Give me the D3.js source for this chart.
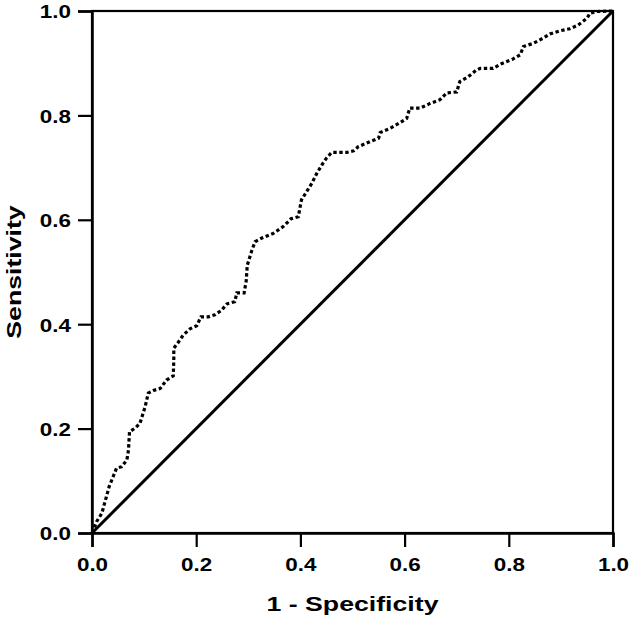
<!DOCTYPE html>
<html>
<head>
<meta charset="utf-8">
<script src="https://cdn.jsdelivr.net/npm/d3@7"></script>
<style>
  html, body { margin: 0; padding: 0; background: #fff; }
  svg { display: block; }
  text { font-family: "Liberation Sans", Arial, sans-serif; font-weight: bold; fill: #000; }
</style>
</head>
<body>
<div id="chart"></div>
<script>
// ── Data: ROC curve ──────────────────────────
const fpr = [0, 0.009, 0.019, 0.025, 0.033, 0.047, 0.057, 0.067, 0.070, 0.072,
  0.083, 0.092, 0.102, 0.108, 0.118, 0.131, 0.143, 0.156, 0.157, 0.157,
  0.166, 0.175, 0.188, 0.201, 0.209, 0.223, 0.236, 0.249, 0.259, 0.274,
  0.278, 0.292, 0.296, 0.298, 0.307, 0.313, 0.326, 0.348, 0.367, 0.382,
  0.396, 0.399, 0.402, 0.412, 0.422, 0.431, 0.441, 0.450, 0.460, 0.489,
  0.502, 0.511, 0.534, 0.550, 0.553, 0.572, 0.591, 0.604, 0.610, 0.630,
  0.649, 0.668, 0.681, 0.700, 0.706, 0.722, 0.738, 0.745, 0.770, 0.786,
  0.806, 0.822, 0.828, 0.847, 0.866, 0.879, 0.898, 0.917, 0.933, 0.950,
  0.956, 0.969, 0.994, 1];
const tpr = [0, 0.022, 0.038, 0.060, 0.089, 0.124, 0.127, 0.140, 0.159, 0.194,
  0.201, 0.210, 0.242, 0.268, 0.273, 0.277, 0.293, 0.301, 0.331, 0.354,
  0.366, 0.379, 0.391, 0.397, 0.414, 0.414, 0.418, 0.427, 0.439, 0.443,
  0.460, 0.460, 0.483, 0.513, 0.542, 0.558, 0.565, 0.574, 0.587, 0.602,
  0.606, 0.622, 0.638, 0.654, 0.670, 0.688, 0.705, 0.718, 0.729, 0.729,
  0.732, 0.740, 0.750, 0.756, 0.767, 0.775, 0.786, 0.794, 0.814, 0.814,
  0.823, 0.830, 0.843, 0.845, 0.865, 0.874, 0.887, 0.890, 0.890, 0.899,
  0.907, 0.916, 0.932, 0.938, 0.948, 0.956, 0.962, 0.966, 0.973, 0.986,
  0.996, 0.999, 1.0, 1];
const refLine = [0, 1];
const tickValues = [0, 0.2, 0.4, 0.6, 0.8, 1.0];
const xTitle = "1 - Specificity";
const yTitle = "Sensitivity";

// ── Layout ───────────────────────────────────
const W = 629, H = 622;
const M = { left: 92, right: 613, top: 11, bottom: 533 };

const svg = d3.select("#chart").append("svg")
  .attr("width", W).attr("height", H);

const x = d3.scaleLinear().domain([0, 1]).range([M.left, M.right]);
const y = d3.scaleLinear().domain([0, 1]).range([M.bottom, M.top]);

// ── Frame (top / right) ──────────────────────
svg.append("rect")
  .attr("x", x(0)).attr("y", y(1))
  .attr("width", x(1) - x(0)).attr("height", y(0) - y(1))
  .attr("fill", "none").attr("stroke", "#000").attr("stroke-width", 2.2);

// ── Axes ─────────────────────────────────────
const fmt = d3.format(".1f");

const gx = svg.append("g")
  .attr("transform", `translate(0,${M.bottom})`)
  .call(d3.axisBottom(x).tickValues(tickValues).tickFormat(fmt).tickSize(14));
gx.selectAll("text")
  .attr("y", 38).attr("dy", 0)
  .attr("font-size", 19)
  .attr("transform", "scale(1.18,1)");

const gy = svg.append("g")
  .attr("transform", `translate(${M.left},0)`)
  .call(d3.axisLeft(y).tickValues(tickValues).tickFormat(fmt).tickSize(14));
gy.selectAll("text")
  .attr("x", 0).attr("dy", "0.36em")
  .attr("font-size", 19)
  .attr("text-anchor", "end")
  .attr("transform", "translate(-21,0) scale(1.18,1)");

[gx, gy].forEach(g => {
  g.select(".domain").attr("stroke", "#000").attr("stroke-width", 2.5);
  g.selectAll(".tick line").attr("stroke", "#000").attr("stroke-width", 2.2);
  g.selectAll("text").attr("fill", "#000").attr("font-family", null);
});

// ── Reference diagonal ───────────────────────
svg.append("line")
  .attr("x1", x(refLine[0])).attr("y1", y(refLine[0]))
  .attr("x2", x(refLine[1])).attr("y2", y(refLine[1]))
  .attr("stroke", "#000").attr("stroke-width", 3);

// ── ROC curve (dotted) ───────────────────────
const pts = fpr.map((d, i) => [d, tpr[i]]);
const line = d3.line().x(d => x(d[0])).y(d => y(d[1]));

svg.append("path")
  .datum(pts)
  .attr("d", line)
  .attr("fill", "none")
  .attr("stroke", "#000")
  .attr("stroke-width", 3.2)
  .attr("stroke-dasharray", "3.4,2.6");

// ── Titles ───────────────────────────────────
svg.append("text")
  .attr("transform", `translate(${(M.left + M.right) / 2},611) scale(1.27,1)`)
  .attr("text-anchor", "middle")
  .attr("font-size", 21)
  .text(xTitle);

svg.append("text")
  .attr("transform", `translate(21,${(M.top + M.bottom) / 2}) rotate(-90) scale(1.27,1)`)
  .attr("text-anchor", "middle")
  .attr("font-size", 21)
  .text(yTitle);
</script>
</body>
</html>
